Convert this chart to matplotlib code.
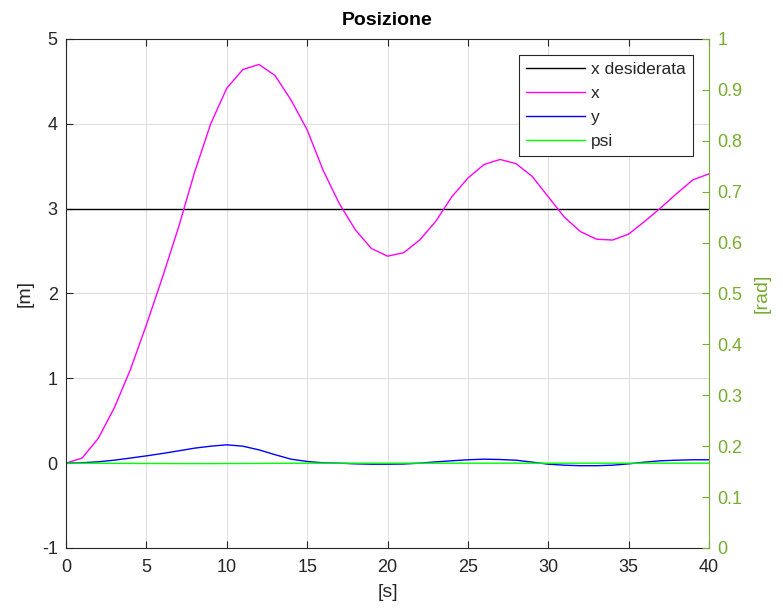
import matplotlib
matplotlib.use("Agg")
import matplotlib.pyplot as plt

plt.rcParams['font.family'] = ['Liberation Sans', 'DejaVu Sans']
plt.rcParams['axes.unicode_minus'] = False

t = list(range(0, 41))
x_des = [3.0] * len(t)
x_pos = [0.0, 0.06, 0.29, 0.65, 1.10, 1.63, 2.19, 2.78, 3.43, 4.00,
         4.42, 4.64, 4.70, 4.57, 4.28, 3.93, 3.45, 3.06, 2.75, 2.53,
         2.44, 2.48, 2.63, 2.85, 3.14, 3.36, 3.52, 3.58, 3.53, 3.38,
         3.14, 2.90, 2.73, 2.64, 2.63, 2.70, 2.85, 3.01, 3.18, 3.34, 3.41]
y_pos = [0.0, 0.005, 0.016, 0.035, 0.060, 0.086, 0.114, 0.145, 0.177, 0.200,
         0.216, 0.200, 0.157, 0.100, 0.047, 0.020, 0.004, 0.000, -0.008, -0.012,
         -0.012, -0.010, 0.000, 0.015, 0.028, 0.040, 0.047, 0.043, 0.035, 0.012,
         -0.012, -0.024, -0.030, -0.030, -0.024, -0.008, 0.012, 0.028, 0.035, 0.040, 0.040]
psi = [0.0, 0.0, -0.001, -0.002, -0.003, -0.004, -0.004, -0.005, -0.005, -0.005,
       -0.004, -0.004, -0.003, -0.002, -0.001, 0.0, 0.0, 0.0, 0.0, 0.0,
       0.0, 0.0, 0.0, 0.0, 0.0, 0.0, 0.0, 0.0, 0.0, 0.0,
       0.0, 0.0, 0.0, 0.0, 0.0, 0.0, 0.0, 0.0, 0.0, 0.0, 0.0]

dark = '#262626'
rgreen = '#77AC30'

fig = plt.figure(figsize=(7.83, 6.16), dpi=100)
ax = fig.add_axes([0.0843, 0.1104, 0.8212, 0.8263])

ax.plot(t, x_des, color='black', lw=1.0, label='x desiderata')
ax.plot(t, x_pos, color='#FF00FF', lw=1.0, label='x')
ax.plot(t, y_pos, color='#0000FF', lw=1.0, label='y')
ax.plot(t, psi, color='#00FF00', lw=1.0, label='psi')

ax.set_xlim(0, 40)
ax.set_ylim(-1, 5)
ax.set_xticks(range(0, 41, 5))
ax.set_yticks(range(-1, 6))
ax.grid(True, color='#DFDFDF', lw=0.8)
ax.set_axisbelow(True)
ax.tick_params(axis='both', direction='in', labelsize=13, colors=dark, length=5, top=True)
ax.tick_params(axis='x', pad=8)
ax.tick_params(axis='y', right=False, pad=6)
for s in ['left', 'bottom', 'top']:
    ax.spines[s].set_color(dark)
ax.spines['right'].set_visible(False)

ax.set_title('Posizione', fontsize=14, fontweight='bold', color='black', pad=10)
ax.set_xlabel('[s]', fontsize=14, color=dark, labelpad=6)
ax.set_ylabel('[m]', fontsize=14, color=dark, labelpad=6)

ax2 = ax.twinx()
ax2.set_ylim(0, 1)
ax2.set_yticks([i / 10 for i in range(11)])
ax2.set_yticklabels(['0'] + ['%.1f' % (i / 10) for i in range(1, 10)] + ['1'])
ax2.tick_params(axis='y', direction='in', labelsize=13, colors=rgreen, length=5, pad=6)
ax2.spines['right'].set_color(rgreen)
for s in ['left', 'bottom', 'top']:
    ax2.spines[s].set_visible(False)
ax2.set_ylabel('[rad]', fontsize=14, color=rgreen, labelpad=8)

leg = ax.legend(loc='upper right', bbox_to_anchor=(0.9745, 0.9685), fontsize=12.5,
                frameon=True, fancybox=False, edgecolor=dark, framealpha=1,
                handlelength=3.4, handletextpad=0.35, borderpad=0.4, labelspacing=0.5,
                borderaxespad=0)
leg.get_frame().set_linewidth(0.8)
for txt in leg.get_texts():
    txt.set_color(dark)

fig.savefig('out.png', dpi=100)
